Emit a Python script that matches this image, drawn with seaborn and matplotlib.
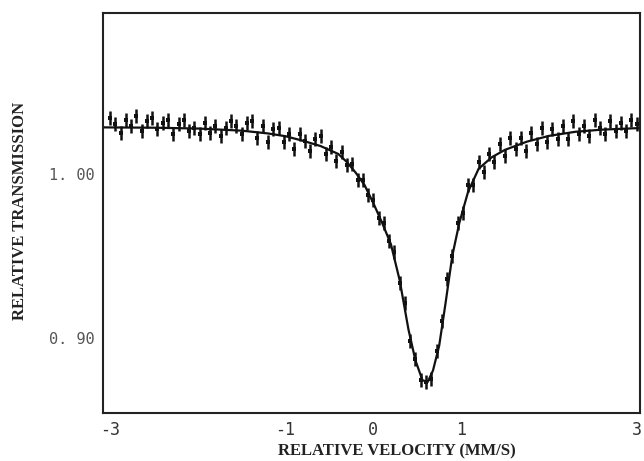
import matplotlib
matplotlib.use("Agg")
import matplotlib.pyplot as plt
import pandas as pd
import seaborn as sns

# ── Data ──────────────────────────────────────────────────────────────────────
# fitted curve (velocity in mm/s, relative transmission)
fit_vel = [-3.08, -2.5, -2.0, -1.5, -1.2, -1.0, -0.8, -0.6, -0.4, -0.3, -0.2,
           -0.1, 0.0, 0.1, 0.2, 0.3, 0.4, 0.48, 0.56, 0.62, 0.68, 0.75, 0.82,
           0.9, 0.98, 1.08, 1.2, 1.35, 1.5, 1.75, 2.0, 2.3, 2.6, 3.04]
fit_trans = [1.0282, 1.0280, 1.0275, 1.0262, 1.0245, 1.0228, 1.0200, 1.0168,
             1.0120, 1.0070, 1.0005, 0.9930, 0.9820, 0.9700, 0.9570, 0.9350,
             0.9050, 0.8860, 0.8740, 0.8730, 0.8800, 0.8950, 0.9200, 0.9500,
             0.9700, 0.9890, 1.0030, 1.0100, 1.0145, 1.0195, 1.0230, 1.0255,
             1.0268, 1.0278]

# measured channels
vel = [-3.00, -2.94, -2.88, -2.82, -2.76, -2.70, -2.64, -2.58, -2.52, -2.46,
       -2.40, -2.34, -2.28, -2.22, -2.16, -2.10, -2.04, -1.98, -1.92, -1.86,
       -1.80, -1.74, -1.68, -1.62, -1.56, -1.50, -1.44, -1.38, -1.32, -1.26,
       -1.20, -1.14, -1.08, -1.02, -0.96, -0.90, -0.84, -0.78, -0.72, -0.66,
       -0.60, -0.54, -0.48, -0.42, -0.36, -0.30, -0.24, -0.18, -0.12, -0.06,
       0.00, 0.06, 0.12, 0.18, 0.24, 0.30, 0.36, 0.42, 0.48, 0.54,
       0.60, 0.66, 0.72, 0.78, 0.84, 0.90, 0.96, 1.02, 1.08, 1.14,
       1.20, 1.26, 1.32, 1.38, 1.44, 1.50, 1.56, 1.62, 1.68, 1.74,
       1.80, 1.86, 1.92, 1.98, 2.04, 2.10, 2.16, 2.22, 2.28, 2.34,
       2.40, 2.46, 2.52, 2.58, 2.64, 2.70, 2.76, 2.82, 2.88, 2.94, 3.00]
trans = [1.034, 1.030, 1.025, 1.033, 1.029, 1.035, 1.026, 1.032, 1.034, 1.027,
         1.031, 1.033, 1.024, 1.030, 1.033, 1.026, 1.028, 1.024, 1.031, 1.025,
         1.029, 1.023, 1.028, 1.032, 1.029, 1.024, 1.031, 1.032, 1.022, 1.029,
         1.019, 1.027, 1.028, 1.019, 1.024, 1.015, 1.024, 1.020, 1.014, 1.021,
         1.023, 1.012, 1.016, 1.008, 1.013, 1.005, 1.006, 0.996, 0.996, 0.987,
         0.984, 0.973, 0.970, 0.959, 0.952, 0.933, 0.921, 0.898, 0.887, 0.874,
         0.873, 0.875, 0.892, 0.910, 0.936, 0.950, 0.970, 0.976, 0.993, 0.993,
         1.007, 1.001, 1.012, 1.007, 1.018, 1.011, 1.022, 1.015, 1.022, 1.014,
         1.025, 1.018, 1.028, 1.019, 1.027, 1.021, 1.029, 1.021, 1.032, 1.024,
         1.029, 1.023, 1.033, 1.028, 1.024, 1.032, 1.026, 1.031, 1.026, 1.033,
         1.030]

x_ticks = [-3, -2, -1, 0, 1, 2, 3]
x_labels = ["-3", "", "-1", "0", "1", "", "3"]
y_ticks = [0.90, 0.95, 1.00, 1.05]
y_labels = ["0. 90", "", "1. 00", ""]

df_pts = pd.DataFrame({"vel": vel, "trans": trans})
df_fit = pd.DataFrame({"vel": fit_vel, "trans": fit_trans})

# ── Plot ──────────────────────────────────────────────────────────────────────
sns.set_style("white")
fig = plt.figure(figsize=(6.44, 4.61), dpi=100)
ax = fig.add_axes([0.160, 0.104, 0.834, 0.868])

# noisy channels drawn as short vertical dashes, as in the scan
sns.scatterplot(data=df_pts, x="vel", y="trans", marker="|", s=90,
                color="#111111", linewidth=1.8, ax=ax)
sns.scatterplot(data=df_pts, x="vel", y="trans", marker="s", s=10,
                color="#111111", linewidth=0, ax=ax)
sns.lineplot(data=df_fit, x="vel", y="trans", color="#111111", lw=1.6, ax=ax)

ax.set_xlim(-3.08, 3.04)
ax.set_ylim(0.854, 1.098)
ax.set_xticks(x_ticks)
ax.set_xticklabels(x_labels, family="DejaVu Sans Mono", fontsize=12,
                   color="#333333")
ax.set_yticks(y_ticks)
ax.set_yticklabels(y_labels, family="DejaVu Sans Mono", fontsize=11,
                   color="#555555")
ax.tick_params(direction="in", length=4, width=1.2, color="#222222", pad=6)

for side in ["left", "right", "top", "bottom"]:
    ax.spines[side].set_color("#222222")
    ax.spines[side].set_linewidth(1.5)

ax.set_xlabel("RELATIVE VELOCITY (MM/S)", family="Liberation Serif",
              fontweight="bold", fontsize=12, color="#222222")
ax.xaxis.set_label_coords(0.547, -0.075)
ax.set_ylabel("RELATIVE TRANSMISSION", family="Liberation Serif",
              fontweight="bold", fontsize=12, color="#222222")
ax.yaxis.set_label_coords(-0.14, 0.505)

plt.savefig("out.png", dpi=100)
plt.close()
